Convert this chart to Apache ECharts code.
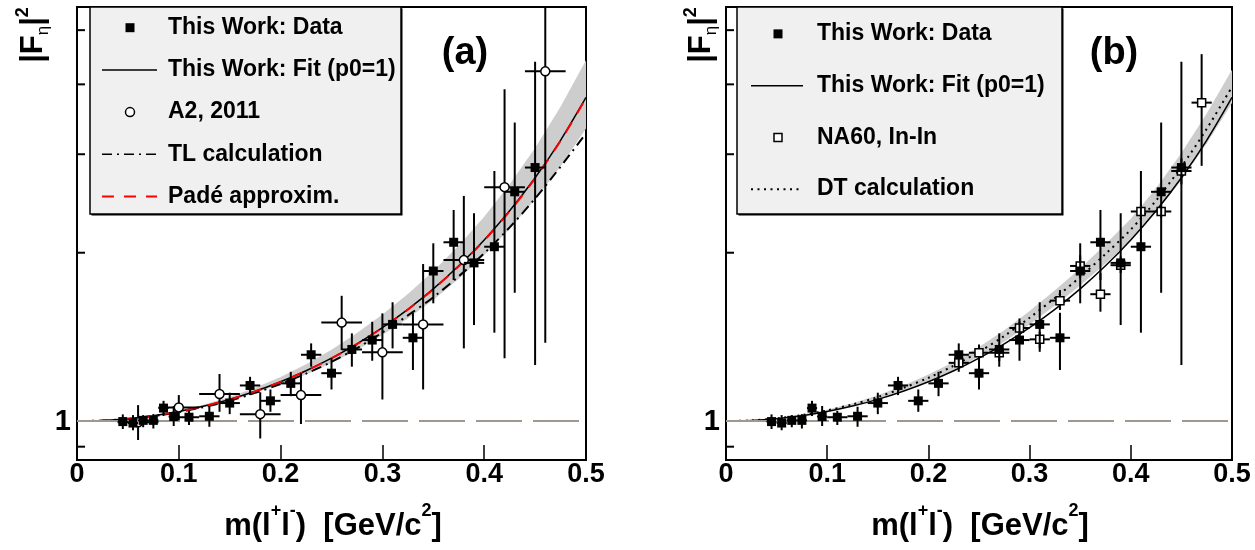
<!DOCTYPE html>
<html><head><meta charset="utf-8">
<script src="https://cdn.jsdelivr.net/npm/echarts@6/dist/echarts.min.js"></script>
<style>html,body{margin:0;padding:0;background:#fff}#c{width:1255px;height:550px}</style>
</head><body><div id="c"></div><script>
// ---------------- data ----------------
const xTickLabels = ['0', '0.1', '0.2', '0.3', '0.4', '0.5'];
const yTickValues = [0.9, 2, 3, 4, 5];
const yLabelValues = [1];

// curve sampling points (m in GeV/c^2)
const curveM = [0, 0.025, 0.05, 0.075, 0.1, 0.125, 0.15, 0.175, 0.2, 0.225, 0.25, 0.275, 0.3, 0.325, 0.35, 0.375, 0.4, 0.425, 0.45, 0.475, 0.5];
const fitCurve = [1, 1.0024, 1.0098, 1.0222, 1.0401, 1.0637, 1.0936, 1.1307, 1.1759, 1.2304, 1.2961, 1.3748, 1.4696, 1.5842, 1.7236, 1.8952, 2.1084, 2.377, 2.723, 3.177, 3.79];
const padeCurve = [1, 1.0024, 1.0097, 1.022, 1.0398, 1.0632, 1.093, 1.130, 1.175, 1.229, 1.295, 1.373, 1.468, 1.582, 1.721, 1.892, 2.104, 2.372, 2.717, 3.17, 3.78];
const tlCurve = [1, 1.0023, 1.009, 1.021, 1.038, 1.06, 1.088, 1.123, 1.165, 1.216, 1.276, 1.35, 1.44, 1.545, 1.665, 1.815, 1.995, 2.22, 2.50, 2.85, 3.27];
const dtCurve = [1, 1.0027, 1.011, 1.025, 1.045, 1.071, 1.104, 1.146, 1.195, 1.256, 1.33, 1.42, 1.53, 1.66, 1.81, 1.99, 2.2, 2.48, 2.85, 3.33, 3.96];
const bandALow = [1, 1.0024, 1.0093, 1.0212, 1.038, 1.0605, 1.0881, 1.1228, 1.1641, 1.2119, 1.2702, 1.3404, 1.4255, 1.5256, 1.646, 1.7966, 1.9819, 2.2059, 2.4915, 2.853, 3.335];
const bandAHigh = [1, 1.0029, 1.0108, 1.0242, 1.0443, 1.0711, 1.1045, 1.1477, 1.1994, 1.2636, 1.3415, 1.4367, 1.5504, 1.6872, 1.8529, 2.0601, 2.3192, 2.6504, 3.077, 3.647, 4.419];
const bandBLow = [1, 1.0025, 1.010, 1.023, 1.042, 1.066, 1.096, 1.135, 1.179, 1.236, 1.303, 1.387, 1.489, 1.610, 1.748, 1.914, 2.108, 2.363, 2.699, 3.134, 3.703];
const bandBHigh = [1, 1.0029, 1.012, 1.027, 1.048, 1.076, 1.112, 1.157, 1.211, 1.276, 1.357, 1.454, 1.573, 1.713, 1.875, 2.072, 2.301, 2.609, 3.015, 3.546, 4.249];

// This Work: Data
const workM = [0.045, 0.055, 0.065, 0.075, 0.085, 0.095, 0.11, 0.13, 0.15, 0.17, 0.19, 0.21, 0.23, 0.25, 0.27, 0.29, 0.31, 0.33, 0.35, 0.37, 0.39, 0.41, 0.43, 0.45];
const workY = [0.998, 0.992, 1.003, 1.003, 1.055, 1.019, 1.016, 1.020, 1.077, 1.158, 1.087, 1.168, 1.314, 1.218, 1.343, 1.396, 1.489, 1.409, 1.855, 2.088, 1.918, 2.05, 2.57, 2.84];
const workMErr = [0.005, 0.005, 0.005, 0.005, 0.005, 0.005, 0.01, 0.01, 0.01, 0.01, 0.01, 0.01, 0.01, 0.01, 0.01, 0.01, 0.01, 0.01, 0.01, 0.01, 0.01, 0.01, 0.01, 0.01];
const workYLo = [0.968, 0.963, 0.975, 0.970, 1.021, 0.980, 0.984, 0.977, 1.029, 1.113, 1.039, 1.108, 1.251, 1.139, 1.251, 1.282, 1.349, 1.234, 1.624, 1.787, 1.485, 1.439, 1.696, 1.26];
const workYHi = [1.028, 1.025, 1.025, 1.029, 1.087, 1.064, 1.043, 1.061, 1.124, 1.2, 1.139, 1.225, 1.377, 1.295, 1.435, 1.505, 1.631, 1.562, 2.079, 2.385, 2.353, 2.8, 3.418, 4.39];

// A2, 2011
const a2M = [0.06, 0.10, 0.14, 0.18, 0.22, 0.26, 0.30, 0.34, 0.38, 0.42, 0.46];
const a2Y = [0.995, 1.058, 1.118, 1.029, 1.113, 1.50, 1.327, 1.489, 1.94, 2.62, 4.22];
const a2MErr = [0.02, 0.02, 0.02, 0.02, 0.02, 0.02, 0.02, 0.02, 0.02, 0.02, 0.02];
const a2YLo = [0.925, 1.004, 1.039, 0.931, 0.988, 1.34, 1.093, 1.139, 1.349, 1.295, 1.38];
const a2YHi = [1.068, 1.113, 1.214, 1.126, 1.217, 1.675, 1.558, 1.909, 2.527, 3.92, 6.5];

// NA60, In-In
const naM = [0.23, 0.25, 0.27, 0.29, 0.31, 0.33, 0.35, 0.37, 0.39, 0.41, 0.43, 0.45, 0.47];
const naY = [1.271, 1.325, 1.325, 1.467, 1.40, 1.642, 1.894, 1.686, 1.90, 2.37, 2.37, 2.80, 3.71];
const naMErr = [0.01, 0.01, 0.01, 0.01, 0.01, 0.01, 0.01, 0.01, 0.01, 0.01, 0.01, 0.01, 0.01];
const naYLo = [1.225, 1.28, 1.28, 1.415, 1.33, 1.58, 1.81, 1.569, 1.84, 2.29, 2.31, 2.65, 2.86];
const naYHi = [1.321, 1.37, 1.37, 1.526, 1.444, 1.715, 1.98, 1.837, 1.97, 2.45, 2.43, 2.95, 4.53];

// ---------------- chart ----------------
const FONT = '"Liberation Sans", Arial, Helvetica, sans-serif';
const chart = echarts.init(document.getElementById('c'), null, {renderer: 'canvas'});

const pts = (xs, ys) => xs.map((x, i) => [x, ys[i]]);
const errData = (xs, ys, ex, lo, hi) => xs.map((x, i) => [x, ys[i], ex[i], lo[i], hi[i]]);

function errSeries(idx, data, z) {
  return {
    type: 'custom', xAxisIndex: idx, yAxisIndex: idx, clip: true, z: z, silent: true,
    data: data, encode: {x: 0, y: 1},
    renderItem(params, api) {
      const x = api.value(0), y = api.value(1), ex = api.value(2), lo = api.value(3), hi = api.value(4);
      const a = api.coord([x - ex, y]), b = api.coord([x + ex, y]);
      const c = api.coord([x, lo]), d = api.coord([x, hi]);
      const st = {stroke: '#000', lineWidth: 2};
      return {type: 'group', children: [
        {type: 'line', shape: {x1: a[0], y1: a[1], x2: b[0], y2: b[1]}, style: st},
        {type: 'line', shape: {x1: c[0], y1: c[1], x2: d[0], y2: d[1]}, style: st}
      ]};
    }
  };
}
function bandSeries(idx, lo, hi) {
  return {
    type: 'custom', xAxisIndex: idx, yAxisIndex: idx, clip: true, z: 1, silent: true,
    data: [[0.25, 1]], encode: {x: 0, y: 1},
    renderItem(params, api) {
      const poly = [];
      for (let i = 0; i < curveM.length; i++) poly.push(api.coord([curveM[i], hi[i]]));
      for (let i = curveM.length - 1; i >= 0; i--) poly.push(api.coord([curveM[i], lo[i]]));
      return {type: 'polygon', shape: {points: poly}, style: {fill: '#cdcdcd'}};
    }
  };
}
function yTickSeries(idx) {
  return {
    type: 'custom', xAxisIndex: idx, yAxisIndex: idx, z: 6, silent: true,
    data: yTickValues.map(v => [0, v]), encode: {x: 0, y: 1},
    renderItem(params, api) {
      const c = api.coord([0, api.value(1)]);
      return {type: 'line', shape: {x1: c[0], y1: c[1], x2: c[0] + 8, y2: c[1]}, style: {stroke: '#000', lineWidth: 2}};
    }
  };
}
function yLabelSeries(idx) {
  return {
    type: 'custom', xAxisIndex: idx, yAxisIndex: idx, z: 6, silent: true,
    data: yLabelValues.map(v => [0, v]), encode: {x: 0, y: 1},
    renderItem(params, api) {
      const v = api.value(1);
      const c = api.coord([0, v]);
      return {type: 'text', x: c[0] - 6, y: c[1] + 1, style: {text: String(v), fontFamily: FONT, fontWeight: 'bold', fontSize: 29, fill: '#000', align: 'right', verticalAlign: 'middle'}};
    }
  };
}
function lineSeries(idx, ys, color, width, type, z, extra) {
  return Object.assign({
    type: 'line', xAxisIndex: idx, yAxisIndex: idx, data: pts(curveM, ys), showSymbol: false,
    smooth: 0.3, clip: true, silent: true, z: z,
    lineStyle: {color: color, width: width, type: type}
  }, extra || {});
}
const refLine = {
  markLine: {symbol: ['none', 'none'], silent: true, label: {show: false}, animation: false,
    lineStyle: {color: '#a0978f', width: 2, type: [46, 11]}, data: [{yAxis: 1}]}
};
function scatter(idx, xs, ys, symbol, size, filled, z) {
  return {
    type: 'scatter', xAxisIndex: idx, yAxisIndex: idx, data: pts(xs, ys), symbol: symbol, symbolSize: size,
    silent: true, z: z,
    itemStyle: filled ? {color: '#000', opacity: 1} : {color: '#fff', borderColor: '#000', borderWidth: 1.5, opacity: 1}
  };
}

const grids = [
  {left: 77, top: 7, width: 509, height: 453},
  {left: 726, top: 7, width: 506, height: 453}
].map(g => Object.assign(g, {show: true, borderColor: '#000', borderWidth: 2, backgroundColor: 'transparent', containLabel: false}));

const xAxes = [0, 1].map(i => ({
  type: 'value', gridIndex: i, min: 0, max: 0.5, interval: 0.1,
  axisLine: {show: true, onZero: false, lineStyle: {color: '#000', width: 2}},
  axisTick: {show: true, inside: true, length: 15, lineStyle: {color: '#000', width: 1.5}},
  axisLabel: {show: true, color: '#000', fontFamily: FONT, fontWeight: 'bold', fontSize: 27, margin: 1,
    formatter: v => xTickLabels[Math.round(v * 10)]},
  splitLine: {show: false}
}));
const yAxes = [0, 1].map(i => ({
  type: 'log', logBase: 10, gridIndex: i, min: 0.852, max: 5.5,
  axisLine: {show: true, lineStyle: {color: '#000', width: 2}},
  axisTick: {show: false}, axisLabel: {show: false}, splitLine: {show: false}, minorTick: {show: false}
}));

const series = [
  // panel (a)
  bandSeries(0, bandALow, bandAHigh),
  lineSeries(0, tlCurve, '#000', 2, [10, 5, 2, 5], 2),
  lineSeries(0, fitCurve, '#000', 1.5, 'solid', 3, refLine),
  lineSeries(0, padeCurve, '#ff0000', 2, [12, 10], 4),
  errSeries(0, errData(a2M, a2Y, a2MErr, a2YLo, a2YHi), 5),
  scatter(0, a2M, a2Y, 'circle', 9, false, 6),
  errSeries(0, errData(workM, workY, workMErr, workYLo, workYHi), 7),
  scatter(0, workM, workY, 'rect', 9, true, 8),
  yTickSeries(0), yLabelSeries(0),
  // panel (b)
  bandSeries(1, bandBLow, bandBHigh),
  lineSeries(1, dtCurve, '#000', 2, [2, 4.5], 2),
  lineSeries(1, fitCurve, '#000', 1.5, 'solid', 3, refLine),
  errSeries(1, errData(naM, naY, naMErr, naYLo, naYHi), 5),
  scatter(1, naM, naY, 'rect', 8, false, 6),
  errSeries(1, errData(workM, workY, workMErr, workYLo, workYHi), 7),
  scatter(1, workM, workY, 'rect', 9, true, 8),
  yTickSeries(1), yLabelSeries(1)
];

// ---------------- legends, titles ----------------
const g = [];
const txt = (x, y, text, size, align) => ({type: 'text', x: x, y: y, z: 100,
  style: {text: text, fontFamily: FONT, fontWeight: 'bold', fontSize: size, fill: '#000', align: align || 'left', verticalAlign: 'middle'}});
function legendBox(x0, y0, w, h) {
  g.push({type: 'rect', z: 98, shape: {x: x0 + 1.5, y: y0 + 1.5, width: w, height: h}, style: {fill: '#000'}});
  g.push({type: 'rect', z: 99, shape: {x: x0, y: y0, width: w, height: h}, style: {fill: '#f0f0f0', stroke: '#000', lineWidth: 1.5}});
}
function lgLine(x1, x2, y, color, width, dash) {
  g.push({type: 'line', z: 100, shape: {x1: x1, y1: y, x2: x2, y2: y}, style: {stroke: color, lineWidth: width, lineDash: dash || null}});
}
function lgSquare(cx, cy, s, filled) {
  g.push({type: 'rect', z: 100, shape: {x: cx - s / 2, y: cy - s / 2, width: s, height: s},
    style: filled ? {fill: '#000'} : {fill: '#fff', stroke: '#000', lineWidth: 1.5}});
}
// legend (a)
legendBox(90, 7, 311, 207);
const ra = [0, 1, 2, 3, 4].map(i => 7 + 207 / 5 * (i + 0.5) + i * 0.8);
lgSquare(130, ra[0], 9, true);
lgLine(102, 157, ra[1], '#000', 1.5);
g.push({type: 'circle', z: 100, shape: {cx: 130, cy: ra[2], r: 4.5}, style: {fill: '#fff', stroke: '#000', lineWidth: 1.5}});
lgLine(102, 157, ra[3], '#000', 1.5, [10, 5, 2, 5]);
lgLine(102, 157, ra[4], '#ff0000', 2, [12, 10]);
['This Work: Data', 'This Work: Fit (p0=1)', 'A2, 2011', 'TL calculation', 'Padé approxim.']
  .forEach((t, i) => g.push(txt(168, ra[i], t, 23)));
// legend (b)
legendBox(737, 7, 325, 207);
const rb = [0, 1, 2, 3].map(i => 7 + 207 / 4 * (i + 0.5) + 1);
lgSquare(778, rb[0], 9, true);
lgLine(751, 803, rb[1], '#000', 1.5);
lgSquare(778, rb[2], 8, false);
lgLine(751, 803, rb[3], '#000', 2, [2, 4.5]);
['This Work: Data', 'This Work: Fit (p0=1)', 'NA60, In-In', 'DT calculation']
  .forEach((t, i) => g.push(txt(817, rb[i], t, 23)));

// panel tags
g.push(txt(465, 54, '(a)', 38, 'center'));
g.push(txt(1114, 54, '(b)', 38, 'center'));

// axis titles
const xTitleRich = {
  n: {fontFamily: FONT, fontWeight: 'bold', fontSize: 31, lineHeight: 40, verticalAlign: 'bottom', fill: '#000'},
  p: {fontFamily: FONT, fontWeight: 'bold', fontSize: 18, lineHeight: 18, verticalAlign: 'top', fill: '#000'}
};
const xTitle = '{n|m(l}{p|+}{n|l}{p|-}{n|)  [GeV/c}{p|2}{n|]}';
[333, 980].forEach(cx => g.push({type: 'text', x: cx, y: 522, z: 100,
  style: {text: xTitle, rich: xTitleRich, align: 'center', verticalAlign: 'middle', fill: '#000'}}));
const yTitleRich = {
  n: {fontFamily: FONT, fontWeight: 'bold', fontSize: 31, lineHeight: 38, verticalAlign: 'middle', fill: '#000'},
  s: {fontFamily: FONT, fontSize: 17, lineHeight: 17, verticalAlign: 'bottom', fill: '#000'},
  p: {fontFamily: FONT, fontWeight: 'bold', fontSize: 18, lineHeight: 18, verticalAlign: 'top', fill: '#000'}
};
const yTitle = '{n||F}{s|η}{n||}{p|2}';
[[33, 35], [701, 35]].forEach(([cx, cy]) => g.push({type: 'text', x: cx, y: cy, rotation: Math.PI / 2, z: 100,
  style: {text: yTitle, rich: yTitleRich, align: 'center', verticalAlign: 'middle', fill: '#000'}}));

chart.setOption({
  animation: false,
  backgroundColor: '#fff',
  grid: grids, xAxis: xAxes, yAxis: yAxes, series: series, graphic: g
});
</script></body></html>
